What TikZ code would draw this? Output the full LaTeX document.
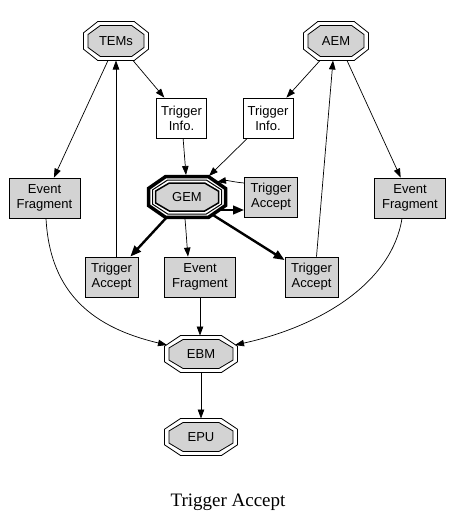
\documentclass[tikz,border=0pt]{standalone}
\usepackage{fontspec}
\setmainfont{Liberation Serif}
\newfontfamily\helv{Liberation Sans}
\usetikzlibrary{arrows.meta}
\definecolor{boxgray}{RGB}{211,211,211}
% octagon path around a coordinate: #1 center, #2 half width, #3 half height, #4 options
\newcommand\octo[4]{%
  \path[#4] (#1) ++({-(#2)},{-0.42*(#3)}) -- ++(0,{0.84*(#3)}) -- ++({0.44*(#2)},{0.58*(#3)})
    -- ++({1.12*(#2)},0) -- ++({0.44*(#2)},{-0.58*(#3)}) -- ++(0,{-0.84*(#3)})
    -- ++({-0.44*(#2)},{-0.58*(#3)}) -- ++({-1.12*(#2)},0) -- cycle;}
% double octagon node: #1 name, #2 center, #3 text, #4 hw, #5 hh
\newcommand\dblocto[5]{%
  \octo{#2}{#4}{#5}{draw,line width=0.8pt}
  \octo{#2}{#4-4.5}{#5-4}{draw,fill=boxgray,line width=0.8pt}
  \node[octlabel,minimum width={2*(#4)},minimum height={2*(#5)}] (#1) at (#2) {#3};}
\tikzset{
  arr/.style={-{Triangle[length=9pt,width=6.5pt]}, line width=0.7pt},
  thickarr/.style={-{Triangle[length=11pt,width=8.5pt]}, line width=2.4pt},
  box/.style={draw, line width=0.8pt, fill=boxgray, align=center,
    font=\helv\fontsize{13}{15}\selectfont, inner sep=0pt, minimum height=40},
  whitebox/.style={box, fill=white},
  octlabel/.style={inner sep=0pt, font=\helv\fontsize{13}{15}\selectfont},
  caption/.style={font=\fontsize{19}{22}\selectfont, inner sep=0pt}
}
\begin{document}
\begin{tikzpicture}[x=1pt,y=-1pt]
\useasboundingbox (0,0) rectangle (452,525);
% octagon nodes
\dblocto{tems}{116,41}{TEMs}{32.5}{19.5}
\dblocto{aem}{336,41}{AEM}{32.5}{19.5}
\dblocto{ebm}{201,354}{EBM}{36.5}{18.5}
\dblocto{epu}{201,437}{EPU}{36.5}{18.5}
% GEM bold double octagon
\octo{187,197}{38.5}{20.3}{draw,line width=3.5pt}
\octo{187,197}{34.5}{17}{draw,line width=1pt}
\octo{187,197}{31.5}{14}{draw,fill=boxgray,line width=1.5pt}
\node[octlabel,minimum width=80,minimum height=44] (gem) at (187,197) {GEM};
% boxes
\node[whitebox, minimum width=50] (til) at (181.5,118) {Trigger\\Info.};
\node[whitebox, minimum width=50] (tir) at (268,118) {Trigger\\Info.};
\node[box, minimum width=53] (tar) at (271,197) {Trigger\\Accept};
\node[box, minimum width=71] (efl) at (44.5,198) {Event\\Fragment};
\node[box, minimum width=71] (efr) at (410,198) {Event\\Fragment};
\node[box, minimum width=53] (tabl) at (111.5,277) {Trigger\\Accept};
\node[box, minimum width=71] (efm) at (200,277) {Event\\Fragment};
\node[box, minimum width=53] (tabr) at (311.5,277) {Trigger\\Accept};
\node[caption] (cap) at (228,502) {Trigger Accept};
% edges from TEMs / AEM
\draw[arr] ([shift={(17,19.5)}]tems.center) -- (til);
\draw[arr] ([shift={(-8,19.5)}]tems.center) -- (efl);
\draw[arr] (tabl.north -| tems.center) -- ([shift={(0,19.5)}]tems.center);
\draw[arr] ([shift={(-16,19.5)}]aem.center) -- (tir);
\draw[arr] ([shift={(11,19.5)}]aem.center) -- (efr);
\draw[arr] ([xshift=5pt]tabr.north) -- ([shift={(-3,19.5)}]aem.center);
% into GEM
\draw[arr] (til) -- ([shift={(-1,-22)}]gem.center);
\draw[arr] (tir) -- ([shift={(22,-21)}]gem.center);
\draw[arr] ([shift={(0,-14)}]tar.west) to[out=175,in=10] ([shift={(30,-15)}]gem.center);
% out of GEM
\draw[thickarr] ([shift={(33,13)}]gem.center) -- ([shift={(0,13)}]tar.west);
\draw[thickarr] ([shift={(-20,20)}]gem.center) -- (tabl);
\draw[arr] ([shift={(-2,22)}]gem.center) to[out=-85,in=95] ([xshift=-12pt]efm.north);
\draw[thickarr] ([shift={(26,18)}]gem.center) -- (tabr);
% into EBM
\draw[arr] ([xshift=1.5pt]efl.south) .. controls (50,295) and (95,328) .. ([shift={(-34,-9)}]ebm.center);
\draw[arr] ([xshift=-8pt]efr.south) .. controls (392,282) and (322,326) .. ([shift={(34,-9)}]ebm.center);
\draw[arr] (efm.south) -- (efm.south |- 0,335.5);
\draw[arr] ([shift={(0,18.5)}]ebm.center) -- ([shift={(0,-18.5)}]epu.center);
\end{tikzpicture}
\end{document}
